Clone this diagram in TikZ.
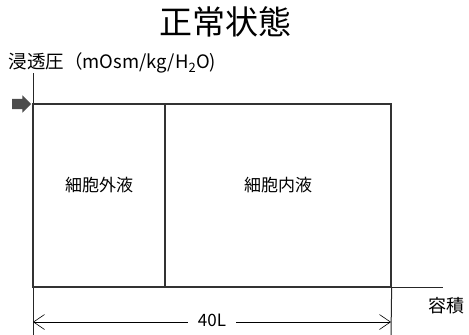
\documentclass[tikz,border=0pt]{standalone}
\usepackage{fontspec}
\setmainfont{Noto Sans CJK JP}
\usetikzlibrary{arrows.meta, positioning, shapes.arrows}

\begin{document}
\begin{tikzpicture}[
  x=1pt, y=-1pt,
  >=Latex,
  font=\fontsize{17}{19}\selectfont,
  axis/.style={line width=1pt, draw=black!85},
  fluid/.style={
    rectangle, draw=black!80, line width=1.3pt,
    inner sep=0pt, minimum height=183pt,
  },
  dim/.style={<->, >={Straight Barb[length=11pt,width=15pt]}, line width=0.6pt},
  marker/.style={single arrow, fill=black!70, inner xsep=0pt, inner ysep=0pt,
    text height=10pt, text depth=0pt, text width=0pt,
    minimum height=19pt, single arrow head extend=3.5pt},
]
\useasboundingbox (0,0) rectangle (469,335);

% --- Title and axis labels ---
\node (TITLE) at (225,22) {\fontsize{33}{35}\selectfont 正常状態};
\node[anchor=west, font=\fontsize{18.5}{20}\selectfont] (YLAB) at (5,63)
  {浸透圧（mOsm/kg/H\textsubscript{2}O)};
\node[font=\fontsize{18}{20}\selectfont] (XLAB) at (446,306) {容積};

% --- Axes ---
\coordinate (YTOP) at (33,73);
\coordinate (YBOT) at (33,335);
\coordinate (ORIG) at (33,287);
\coordinate (XEND) at (443,287);
\draw[axis] (YTOP) -- (YBOT);
\draw[axis] (ORIG) -- (XEND);

% --- Fluid compartments ---
\node[fluid, minimum width=132pt,
  label={[name=ECFT, yshift=10pt]center:細胞外液}] (ECF) at (99,195.5) {};
\node[fluid, minimum width=226pt,
  label={[name=ICFT, yshift=10pt]center:細胞内液}] (ICF) at (278,195.5) {};

% --- Level marker ---
\node[marker] (MARK) at (19,104) {};

% --- Volume ---
\coordinate (RBOT) at (391,335);
\draw[axis] (ICF.south east) -- (RBOT);
\coordinate (DIML) at (33,322);
\coordinate (DIMR) at (391,322);
\draw[dim] (DIML) -- node[fill=white, inner xsep=10pt, yshift=2pt] (VOL) {40L} (DIMR);

\end{tikzpicture}
\end{document}
